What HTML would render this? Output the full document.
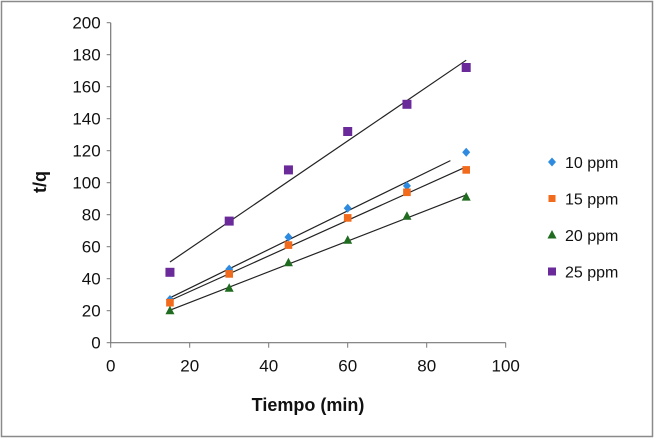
<!DOCTYPE html>
<html><head><meta charset="utf-8"><style>
body{margin:0;background:#fff}
svg{display:block;font-family:"Liberation Sans",sans-serif}
</style></head><body>
<svg id="c" width="655" height="439">
<rect x="1.5" y="1.5" width="651" height="435" fill="#fff" stroke="#8a8a8a" stroke-width="1.5"/>
</svg>
<script>
const xs=[15,30,45,60,75,90];
const s10=[27,46,66,84,98,119];
const s15=[25,43,61,78,94,108];
const s20=[20,34,50,64,79,91];
const s25=[44,76,108,132,149,172];
const names=["10 ppm","15 ppm","20 ppm","25 ppm"];
const xTicks=[0,20,40,60,80,100];
const yTicks=[0,20,40,60,80,100,120,140,160,180,200];
const lineEnds=[86,90,90,90];
const series=[s10,s15,s20,s25];
const colors=["#2e8be0","#f26a1b","#1f6b1f","#6a2a9a"];
const shapes=["diamond","square","triangle","square"];
const X=v=>110.7+v*3.95, Y=v=>342.7-v*1.6;
const svg=document.getElementById('c');const NS="http://www.w3.org/2000/svg";
function mk(t,a,p){const e=document.createElementNS(NS,t);for(const k in a)e.setAttribute(k,a[k]);(p||svg).appendChild(e);return e;}
let e;
e=mk('line',{x1:X(0),y1:Y(0),x2:X(0),y2:Y(200),stroke:'#777','stroke-width':1.2});


e=mk('line',{x1:X(0),y1:Y(0),x2:X(100),y2:Y(0),stroke:'#777','stroke-width':1.2});


yTicks.forEach(v=>{mk('line',{x1:X(0)-4,x2:X(0),y1:Y(v),y2:Y(v),stroke:'#777'});
e=mk('text',{x:X(0)-10,y:Y(v)+6,'text-anchor':'end','font-size':17,fill:'#111'});e.textContent=v;

});
xTicks.forEach(v=>{mk('line',{x1:X(v),x2:X(v),y1:Y(0),y2:Y(0)+5,stroke:'#777'});
e=mk('text',{x:X(v),y:Y(0)+29,'text-anchor':'middle','font-size':17,fill:'#111'});e.textContent=v;

});
e=mk('text',{x:308,y:411,'text-anchor':'middle','font-size':18,'font-weight':'bold',fill:'#111'});e.textContent='Tiempo (min)';


e=mk('text',{x:0,y:0,transform:'translate(46,182) rotate(-90)','text-anchor':'middle','font-size':18,'font-weight':'bold',fill:'#111'});e.textContent='t/q';


function marker(shape,cx,cy,col,sz){
 if(shape==='diamond')return mk('polygon',{points:`${cx},${cy-4.5} ${cx+4},${cy} ${cx},${cy+4.5} ${cx-4},${cy}`,fill:col});
 if(shape==='triangle')return mk('polygon',{points:`${cx},${cy-5} ${cx+4.5},${cy+3.5} ${cx-4.5},${cy+3.5}`,fill:col});
 return mk('rect',{x:cx-sz,y:cy-sz,width:sz*2,height:sz*2,fill:col});
}
series.forEach((s,i)=>{
 const n=xs.length,mx=xs.reduce((a,b)=>a+b)/n,my=s.reduce((a,b)=>a+b)/n;
 let num=0,den=0;xs.forEach((x,j)=>{num+=(x-mx)*(s[j]-my);den+=(x-mx)**2;});
 const b=num/den,a=my-b*mx;
 e=mk('line',{x1:X(15),y1:Y(a+b*15),x2:X(lineEnds[i]),y2:Y(a+b*lineEnds[i]),stroke:'#222','stroke-width':1.2});
 
 
 xs.forEach((x,j)=>{e=marker(shapes[i],X(x),Y(s[j]),colors[i],i===3?4.5:3.8);
 
 });
 const ly=162+i*36.5;
 e=marker(shapes[i],552,ly,colors[i],i===3?4:3.5);
 
 
 e=mk('text',{x:565,y:ly+6,'font-size':16,fill:'#111'});e.textContent=names[i];
 
 
});
</script>
</body></html>
